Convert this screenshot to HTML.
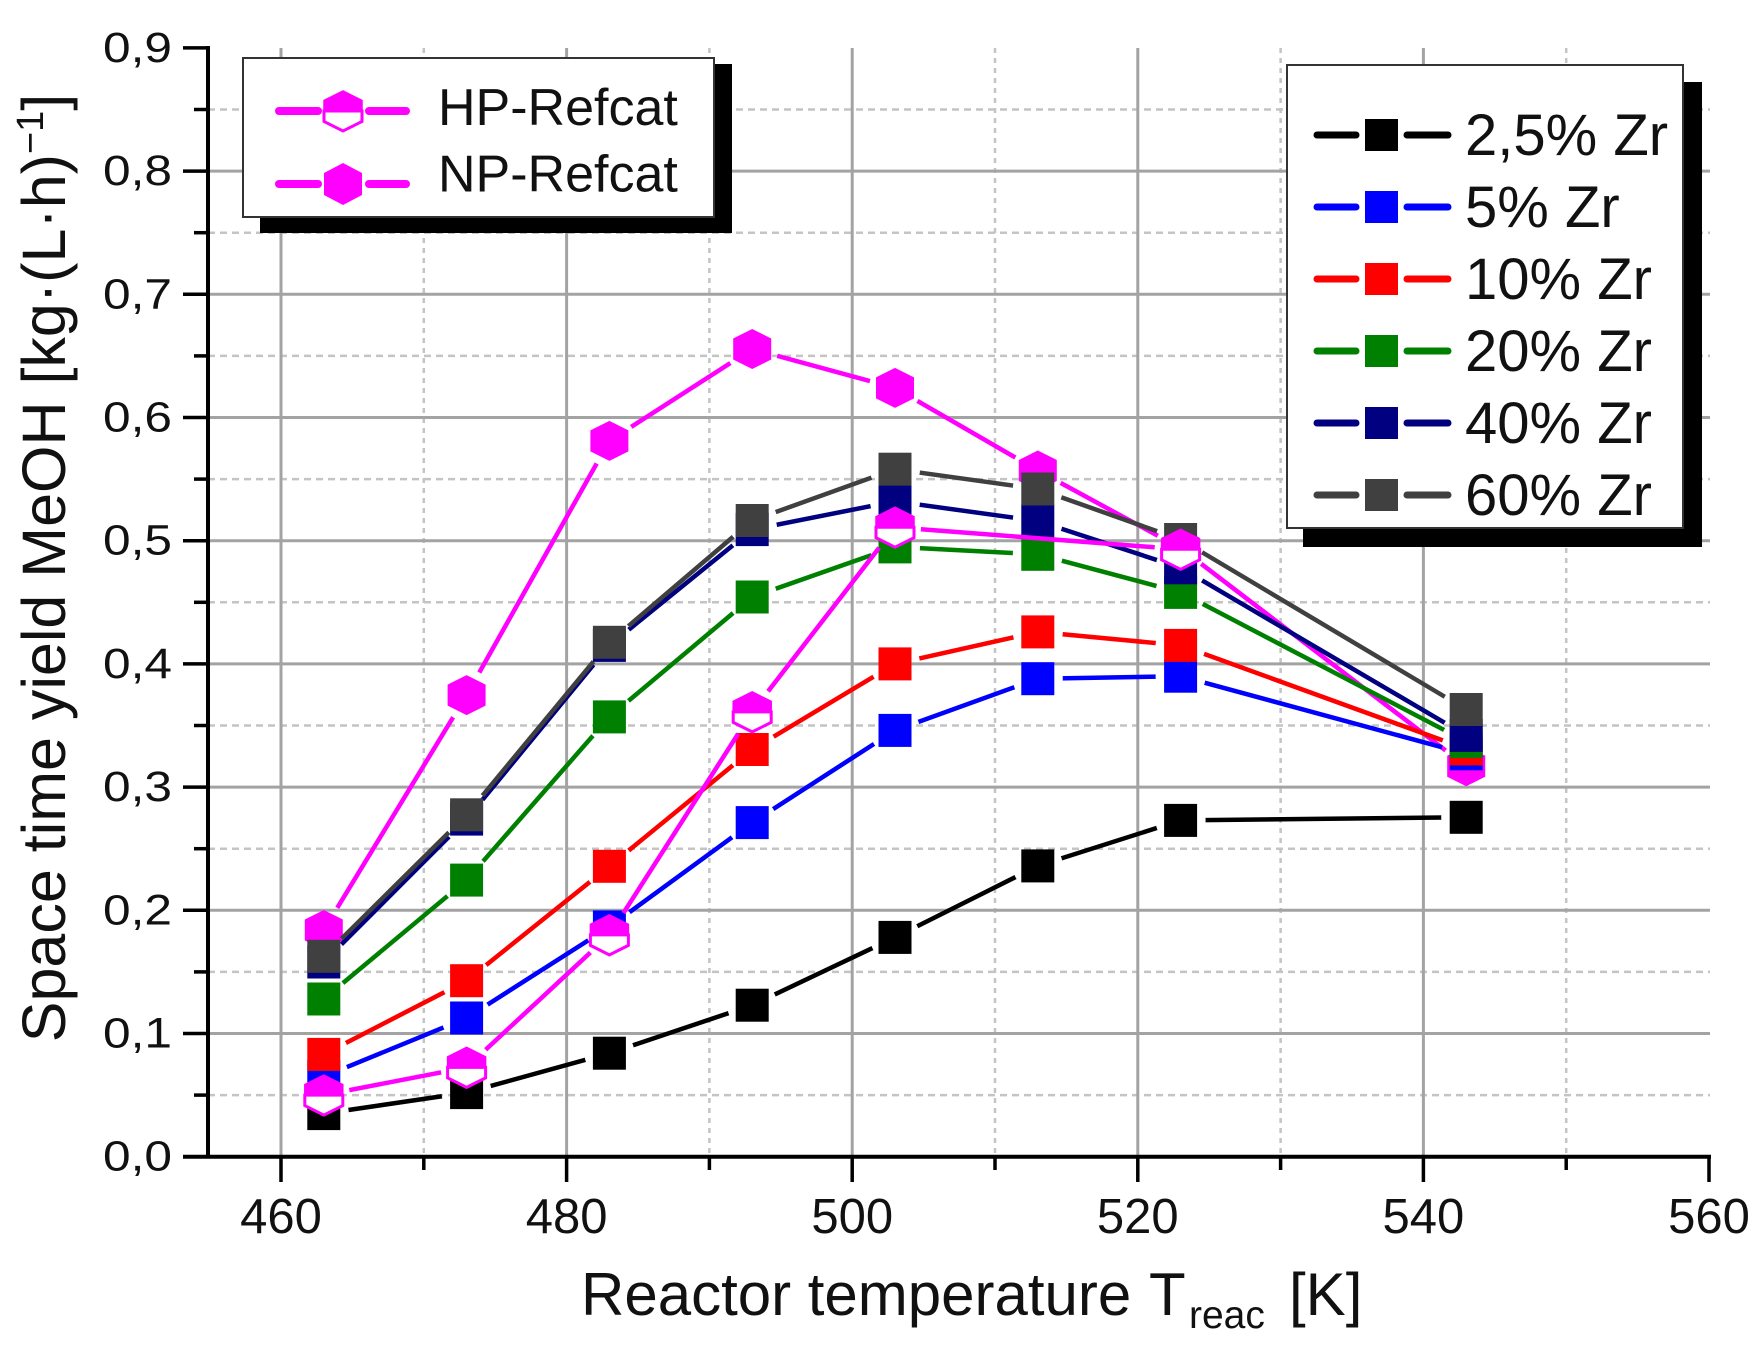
<!DOCTYPE html>
<html>
<head>
<meta charset="utf-8">
<style>
html,body{margin:0;padding:0;background:#fff;}
svg{display:block;}
text{font-family:"Liberation Sans",Arial,sans-serif;fill:#111;}
</style>
</head>
<body>
<svg xmlns="http://www.w3.org/2000/svg" width="1764" height="1354" viewBox="0 0 1764 1354">
<defs>
  <mask id="mBlack" maskUnits="userSpaceOnUse" x="0" y="0" width="1764" height="1354">
    <rect x="0" y="0" width="1764" height="1354" fill="#fff"/>
    <g fill="#000"><circle cx="323.8" cy="1113.6" r="25"/><circle cx="466.6" cy="1092.6" r="25"/><circle cx="609.4" cy="1053.2" r="25"/><circle cx="752.2" cy="1005.2" r="25"/><circle cx="895" cy="937.4" r="25"/><circle cx="1037.8" cy="865.9" r="25"/><circle cx="1180.6" cy="820.4" r="25"/><circle cx="1466.2" cy="817.3" r="25"/></g>
  </mask>
  <mask id="mBlue" maskUnits="userSpaceOnUse" x="0" y="0" width="1764" height="1354">
    <rect x="0" y="0" width="1764" height="1354" fill="#fff"/>
    <g fill="#000"><circle cx="323.8" cy="1076.6" r="25"/><circle cx="466.6" cy="1018" r="25"/><circle cx="609.4" cy="926.9" r="25"/><circle cx="752.2" cy="822.6" r="25"/><circle cx="895" cy="730.4" r="25"/><circle cx="1037.8" cy="678.7" r="25"/><circle cx="1180.6" cy="676.2" r="25"/><circle cx="1466.2" cy="753.8" r="25"/></g>
  </mask>
  <mask id="mRed" maskUnits="userSpaceOnUse" x="0" y="0" width="1764" height="1354">
    <rect x="0" y="0" width="1764" height="1354" fill="#fff"/>
    <g fill="#000"><circle cx="323.8" cy="1054.4" r="25"/><circle cx="466.6" cy="980.7" r="25"/><circle cx="609.4" cy="866.3" r="25"/><circle cx="752.2" cy="749.5" r="25"/><circle cx="895" cy="663.9" r="25"/><circle cx="1037.8" cy="631.9" r="25"/><circle cx="1180.6" cy="645.4" r="25"/><circle cx="1466.2" cy="748.9" r="25"/></g>
  </mask>
  <mask id="mGreen" maskUnits="userSpaceOnUse" x="0" y="0" width="1764" height="1354">
    <rect x="0" y="0" width="1764" height="1354" fill="#fff"/>
    <g fill="#000"><circle cx="323.8" cy="999" r="25"/><circle cx="466.6" cy="880.1" r="25"/><circle cx="609.4" cy="716.9" r="25"/><circle cx="752.2" cy="597" r="25"/><circle cx="895" cy="546.9" r="25"/><circle cx="1037.8" cy="554.3" r="25"/><circle cx="1180.6" cy="592.4" r="25"/><circle cx="1466.2" cy="741.5" r="25"/></g>
  </mask>
  <mask id="mNavy" maskUnits="userSpaceOnUse" x="0" y="0" width="1764" height="1354">
    <rect x="0" y="0" width="1764" height="1354" fill="#fff"/>
    <g fill="#000"><circle cx="323.8" cy="962" r="25"/><circle cx="466.6" cy="819.1" r="25"/><circle cx="609.4" cy="645.4" r="25"/><circle cx="752.2" cy="529.6" r="25"/><circle cx="895" cy="501.3" r="25"/><circle cx="1037.8" cy="521" r="25"/><circle cx="1180.6" cy="567.8" r="25"/><circle cx="1466.2" cy="735.4" r="25"/></g>
  </mask>
  <mask id="mGray" maskUnits="userSpaceOnUse" x="0" y="0" width="1764" height="1354">
    <rect x="0" y="0" width="1764" height="1354" fill="#fff"/>
    <g fill="#000"><circle cx="323.8" cy="956.3" r="25"/><circle cx="466.6" cy="814.8" r="25"/><circle cx="609.4" cy="642.3" r="25"/><circle cx="752.2" cy="520.5" r="25"/><circle cx="895" cy="469.2" r="25"/><circle cx="1037.8" cy="489" r="25"/><circle cx="1180.6" cy="539.5" r="25"/><circle cx="1466.2" cy="709.5" r="25"/></g>
  </mask>
  <mask id="mNP" maskUnits="userSpaceOnUse" x="0" y="0" width="1764" height="1354">
    <rect x="0" y="0" width="1764" height="1354" fill="#fff"/>
    <g fill="#000"><circle cx="323.8" cy="930" r="26"/><circle cx="466.6" cy="695.1" r="26"/><circle cx="609.4" cy="440.9" r="26"/><circle cx="752.2" cy="349" r="26"/><circle cx="895" cy="387.9" r="26"/><circle cx="1037.8" cy="470.5" r="26"/><circle cx="1180.6" cy="548.1" r="26"/><circle cx="1466.2" cy="766.2" r="26"/></g>
  </mask>
  <mask id="mHP" maskUnits="userSpaceOnUse" x="0" y="0" width="1764" height="1354">
    <rect x="0" y="0" width="1764" height="1354" fill="#fff"/>
    <g fill="#000"><circle cx="323.8" cy="1095.1" r="26"/><circle cx="466.6" cy="1067.4" r="26"/><circle cx="609.4" cy="934.9" r="26"/><circle cx="752.2" cy="711.9" r="26"/><circle cx="895" cy="527.2" r="26"/><circle cx="1180.6" cy="549.3" r="26"/></g>
  </mask>
</defs>

<rect x="0" y="0" width="1764" height="1354" fill="#fff"/>

<!-- minor grid (dashed) -->
<g stroke="#c4c4c4" stroke-width="2.5" stroke-dasharray="7 5" fill="none">
  <line x1="208" y1="1095.1" x2="1710" y2="1095.1"/>
  <line x1="208" y1="971.9" x2="1710" y2="971.9"/>
  <line x1="208" y1="848.7" x2="1710" y2="848.7"/>
  <line x1="208" y1="725.5" x2="1710" y2="725.5"/>
  <line x1="208" y1="602.3" x2="1710" y2="602.3"/>
  <line x1="208" y1="479.1" x2="1710" y2="479.1"/>
  <line x1="208" y1="355.9" x2="1710" y2="355.9"/>
  <line x1="208" y1="232.7" x2="1710" y2="232.7"/>
  <line x1="208" y1="109.5" x2="1710" y2="109.5"/>
</g>
<g stroke="#c4c4c4" stroke-width="2.5" stroke-dasharray="5 5" fill="none">
  <line x1="423.8" y1="48" x2="423.8" y2="1156"/>
  <line x1="709.4" y1="48" x2="709.4" y2="1156"/>
  <line x1="995" y1="48" x2="995" y2="1156"/>
  <line x1="1280.6" y1="48" x2="1280.6" y2="1156"/>
  <line x1="1566.2" y1="48" x2="1566.2" y2="1156"/>
</g>
<!-- major grid -->
<g stroke="#a3a3a3" stroke-width="3" fill="none">
  <line x1="208" y1="1033.5" x2="1710" y2="1033.5"/>
  <line x1="208" y1="910.3" x2="1710" y2="910.3"/>
  <line x1="208" y1="787.1" x2="1710" y2="787.1"/>
  <line x1="208" y1="663.9" x2="1710" y2="663.9"/>
  <line x1="208" y1="540.7" x2="1710" y2="540.7"/>
  <line x1="208" y1="417.5" x2="1710" y2="417.5"/>
  <line x1="208" y1="294.3" x2="1710" y2="294.3"/>
  <line x1="208" y1="171.1" x2="1710" y2="171.1"/>
  <line x1="281" y1="48" x2="281" y2="1156"/>
  <line x1="566.6" y1="48" x2="566.6" y2="1156"/>
  <line x1="852.2" y1="48" x2="852.2" y2="1156"/>
  <line x1="1137.8" y1="48" x2="1137.8" y2="1156"/>
  <line x1="1423.4" y1="48" x2="1423.4" y2="1156"/>
</g>

<!-- axes -->
<g stroke="#000" fill="none">
  <line x1="208" y1="46" x2="208" y2="1158.5" stroke-width="4"/>
  <line x1="183" y1="1156.7" x2="1711" y2="1156.7" stroke-width="4"/>
  <g stroke-width="3.5">
    <line x1="183" y1="1033.5" x2="208" y2="1033.5"/>
    <line x1="183" y1="910.3" x2="208" y2="910.3"/>
    <line x1="183" y1="787.1" x2="208" y2="787.1"/>
    <line x1="183" y1="663.9" x2="208" y2="663.9"/>
    <line x1="183" y1="540.7" x2="208" y2="540.7"/>
    <line x1="183" y1="417.5" x2="208" y2="417.5"/>
    <line x1="183" y1="294.3" x2="208" y2="294.3"/>
    <line x1="183" y1="171.1" x2="208" y2="171.1"/>
    <line x1="183" y1="47.9" x2="208" y2="47.9"/>
    <line x1="194" y1="1095.1" x2="208" y2="1095.1"/>
    <line x1="194" y1="971.9" x2="208" y2="971.9"/>
    <line x1="194" y1="848.7" x2="208" y2="848.7"/>
    <line x1="194" y1="725.5" x2="208" y2="725.5"/>
    <line x1="194" y1="602.3" x2="208" y2="602.3"/>
    <line x1="194" y1="479.1" x2="208" y2="479.1"/>
    <line x1="194" y1="355.9" x2="208" y2="355.9"/>
    <line x1="194" y1="232.7" x2="208" y2="232.7"/>
    <line x1="194" y1="109.5" x2="208" y2="109.5"/>
    <line x1="281" y1="1156" x2="281" y2="1182"/>
    <line x1="566.6" y1="1156" x2="566.6" y2="1182"/>
    <line x1="852.2" y1="1156" x2="852.2" y2="1182"/>
    <line x1="1137.8" y1="1156" x2="1137.8" y2="1182"/>
    <line x1="1423.4" y1="1156" x2="1423.4" y2="1182"/>
    <line x1="1709" y1="1156" x2="1709" y2="1182"/>
    <line x1="423.8" y1="1156" x2="423.8" y2="1170"/>
    <line x1="709.4" y1="1156" x2="709.4" y2="1170"/>
    <line x1="995" y1="1156" x2="995" y2="1170"/>
    <line x1="1280.6" y1="1156" x2="1280.6" y2="1170"/>
    <line x1="1566.2" y1="1156" x2="1566.2" y2="1170"/>
  </g>
</g>

<!-- y tick labels -->
<g font-size="43">
  <text x="103" y="1170.7" textLength="69" lengthAdjust="spacingAndGlyphs">0,0</text>
  <text x="103" y="1047.5" textLength="69" lengthAdjust="spacingAndGlyphs">0,1</text>
  <text x="103" y="924.3" textLength="69" lengthAdjust="spacingAndGlyphs">0,2</text>
  <text x="103" y="801.1" textLength="69" lengthAdjust="spacingAndGlyphs">0,3</text>
  <text x="103" y="677.9" textLength="69" lengthAdjust="spacingAndGlyphs">0,4</text>
  <text x="103" y="554.7" textLength="69" lengthAdjust="spacingAndGlyphs">0,5</text>
  <text x="103" y="431.5" textLength="69" lengthAdjust="spacingAndGlyphs">0,6</text>
  <text x="103" y="308.3" textLength="69" lengthAdjust="spacingAndGlyphs">0,7</text>
  <text x="103" y="185.1" textLength="69" lengthAdjust="spacingAndGlyphs">0,8</text>
  <text x="103" y="61.9" textLength="69" lengthAdjust="spacingAndGlyphs">0,9</text>
</g>
<!-- x tick labels -->
<g font-size="49" text-anchor="middle">
  <text x="281" y="1233">460</text>
  <text x="566.6" y="1233">480</text>
  <text x="852.2" y="1233">500</text>
  <text x="1137.8" y="1233">520</text>
  <text x="1423.4" y="1233">540</text>
  <text x="1709" y="1233">560</text>
</g>

<!-- axis titles -->
<text x="581" y="1315" font-size="60">Reactor temperature</text>
<text x="1149" y="1315" font-size="60">T</text>
<text x="1189" y="1328" font-size="39">reac</text>
<text x="1289" y="1315" font-size="60">[K]</text>

<text transform="translate(65,568) rotate(-90)" text-anchor="middle" font-size="61">Space time yield MeOH [kg·(L·h)<tspan font-size="38" dy="-22">−1</tspan><tspan dy="22">]</tspan></text>

<!-- NP-Refcat (bottom layer) -->
<polyline mask="url(#mNP)" fill="none" stroke="#ff00ff" stroke-width="4.5" stroke-linejoin="round"
  points="323.8,930 466.6,695.1 609.4,440.9 752.2,349 895,387.9 1037.8,470.5 1180.6,548.1 1466.2,766.2"/>
<g fill="#ff00ff">
  <polygon transform="translate(323.8,930)" points="0,-20 19,-10.5 19,10.5 0,20 -19,10.5 -19,-10.5"/>
  <polygon transform="translate(466.6,695.1)" points="0,-20 19,-10.5 19,10.5 0,20 -19,10.5 -19,-10.5"/>
  <polygon transform="translate(609.4,440.9)" points="0,-20 19,-10.5 19,10.5 0,20 -19,10.5 -19,-10.5"/>
  <polygon transform="translate(752.2,349)" points="0,-20 19,-10.5 19,10.5 0,20 -19,10.5 -19,-10.5"/>
  <polygon transform="translate(895,387.9)" points="0,-20 19,-10.5 19,10.5 0,20 -19,10.5 -19,-10.5"/>
  <polygon transform="translate(1037.8,470.5)" points="0,-20 19,-10.5 19,10.5 0,20 -19,10.5 -19,-10.5"/>
  <polygon transform="translate(1180.6,548.1)" points="0,-20 19,-10.5 19,10.5 0,20 -19,10.5 -19,-10.5"/>
  <polygon transform="translate(1466.2,766.2)" points="0,-20 19,-10.5 19,10.5 0,20 -19,10.5 -19,-10.5"/>
</g>

<!-- 2,5% Zr black -->
<polyline mask="url(#mBlack)" fill="none" stroke="#000" stroke-width="4.5" stroke-linejoin="round"
  points="323.8,1113.6 466.6,1092.6 609.4,1053.2 752.2,1005.2 895,937.4 1037.8,865.9 1180.6,820.4 1466.2,817.3"/>
<g fill="#000">
  <rect x="307.3" y="1097.1" width="33" height="33"/>
  <rect x="450.1" y="1076.1" width="33" height="33"/>
  <rect x="592.9" y="1036.7" width="33" height="33"/>
  <rect x="735.7" y="988.7" width="33" height="33"/>
  <rect x="878.5" y="920.9" width="33" height="33"/>
  <rect x="1021.3" y="849.4" width="33" height="33"/>
  <rect x="1164.1" y="803.9" width="33" height="33"/>
  <rect x="1449.7" y="800.8" width="33" height="33"/>
</g>

<!-- 5% Zr blue -->
<polyline mask="url(#mBlue)" fill="none" stroke="#0000ff" stroke-width="4.5" stroke-linejoin="round"
  points="323.8,1076.6 466.6,1018 609.4,926.9 752.2,822.6 895,730.4 1037.8,678.7 1180.6,676.2 1466.2,753.8"/>
<g fill="#0000ff">
  <rect x="307.3" y="1060.1" width="33" height="33"/>
  <rect x="450.1" y="1001.5" width="33" height="33"/>
  <rect x="592.9" y="910.4" width="33" height="33"/>
  <rect x="735.7" y="806.1" width="33" height="33"/>
  <rect x="878.5" y="713.9" width="33" height="33"/>
  <rect x="1021.3" y="662.2" width="33" height="33"/>
  <rect x="1164.1" y="659.7" width="33" height="33"/>
  <rect x="1449.7" y="737.3" width="33" height="33"/>
</g>

<!-- 10% Zr red -->
<polyline mask="url(#mRed)" fill="none" stroke="#ff0000" stroke-width="4.5" stroke-linejoin="round"
  points="323.8,1054.4 466.6,980.7 609.4,866.3 752.2,749.5 895,663.9 1037.8,631.9 1180.6,645.4 1466.2,748.9"/>
<g fill="#ff0000">
  <rect x="307.3" y="1037.9" width="33" height="33"/>
  <rect x="450.1" y="964.2" width="33" height="33"/>
  <rect x="592.9" y="849.8" width="33" height="33"/>
  <rect x="735.7" y="733" width="33" height="33"/>
  <rect x="878.5" y="647.4" width="33" height="33"/>
  <rect x="1021.3" y="615.4" width="33" height="33"/>
  <rect x="1164.1" y="628.9" width="33" height="33"/>
  <rect x="1449.7" y="732.4" width="33" height="33"/>
</g>

<!-- 20% Zr green -->
<polyline mask="url(#mGreen)" fill="none" stroke="#008000" stroke-width="4.5" stroke-linejoin="round"
  points="323.8,999 466.6,880.1 609.4,716.9 752.2,597 895,546.9 1037.8,554.3 1180.6,592.4 1466.2,741.5"/>
<g fill="#008000">
  <rect x="307.3" y="982.5" width="33" height="33"/>
  <rect x="450.1" y="863.6" width="33" height="33"/>
  <rect x="592.9" y="700.4" width="33" height="33"/>
  <rect x="735.7" y="580.5" width="33" height="33"/>
  <rect x="878.5" y="530.4" width="33" height="33"/>
  <rect x="1021.3" y="537.8" width="33" height="33"/>
  <rect x="1164.1" y="575.9" width="33" height="33"/>
  <rect x="1449.7" y="725" width="33" height="33"/>
</g>

<!-- 40% Zr navy -->
<polyline mask="url(#mNavy)" fill="none" stroke="#000080" stroke-width="4.5" stroke-linejoin="round"
  points="323.8,962 466.6,819.1 609.4,645.4 752.2,529.6 895,501.3 1037.8,521 1180.6,567.8 1466.2,735.4"/>
<g fill="#000080">
  <rect x="307.3" y="945.5" width="33" height="33"/>
  <rect x="450.1" y="802.6" width="33" height="33"/>
  <rect x="592.9" y="628.9" width="33" height="33"/>
  <rect x="735.7" y="513.1" width="33" height="33"/>
  <rect x="878.5" y="484.8" width="33" height="33"/>
  <rect x="1021.3" y="504.5" width="33" height="33"/>
  <rect x="1164.1" y="551.3" width="33" height="33"/>
  <rect x="1449.7" y="718.9" width="33" height="33"/>
</g>

<!-- 60% Zr dark gray -->
<polyline mask="url(#mGray)" fill="none" stroke="#404040" stroke-width="4.5" stroke-linejoin="round"
  points="323.8,956.3 466.6,814.8 609.4,642.3 752.2,520.5 895,469.2 1037.8,489 1180.6,539.5 1466.2,709.5"/>
<g fill="#404040">
  <rect x="307.3" y="939.8" width="33" height="33"/>
  <rect x="450.1" y="798.3" width="33" height="33"/>
  <rect x="592.9" y="625.8" width="33" height="33"/>
  <rect x="735.7" y="504" width="33" height="33"/>
  <rect x="878.5" y="452.7" width="33" height="33"/>
  <rect x="1021.3" y="472.5" width="33" height="33"/>
  <rect x="1164.1" y="523" width="33" height="33"/>
  <rect x="1449.7" y="693" width="33" height="33"/>
</g>

<!-- HP-Refcat (top layer) -->
<polyline mask="url(#mHP)" fill="none" stroke="#ff00ff" stroke-width="4.5" stroke-linejoin="round"
  points="323.8,1095.1 466.6,1067.4 609.4,934.9 752.2,711.9 895,527.2 1180.6,549.3"/>
<g>
  <g transform="translate(323.8,1095.1)"><polygon points="19,0 19,10.5 0,20 -19,10.5 -19,0" fill="#fff" stroke="#ff00ff" stroke-width="3"/><polygon points="-19,0 -19,-10.5 0,-20 19,-10.5 19,0" fill="#ff00ff" stroke="#ff00ff" stroke-width="1.5"/></g>
  <g transform="translate(466.6,1067.4)"><polygon points="19,0 19,10.5 0,20 -19,10.5 -19,0" fill="#fff" stroke="#ff00ff" stroke-width="3"/><polygon points="-19,0 -19,-10.5 0,-20 19,-10.5 19,0" fill="#ff00ff" stroke="#ff00ff" stroke-width="1.5"/></g>
  <g transform="translate(609.4,934.9)"><polygon points="19,0 19,10.5 0,20 -19,10.5 -19,0" fill="#fff" stroke="#ff00ff" stroke-width="3"/><polygon points="-19,0 -19,-10.5 0,-20 19,-10.5 19,0" fill="#ff00ff" stroke="#ff00ff" stroke-width="1.5"/></g>
  <g transform="translate(752.2,711.9)"><polygon points="19,0 19,10.5 0,20 -19,10.5 -19,0" fill="#fff" stroke="#ff00ff" stroke-width="3"/><polygon points="-19,0 -19,-10.5 0,-20 19,-10.5 19,0" fill="#ff00ff" stroke="#ff00ff" stroke-width="1.5"/></g>
  <g transform="translate(895,527.2)"><polygon points="19,0 19,10.5 0,20 -19,10.5 -19,0" fill="#fff" stroke="#ff00ff" stroke-width="3"/><polygon points="-19,0 -19,-10.5 0,-20 19,-10.5 19,0" fill="#ff00ff" stroke="#ff00ff" stroke-width="1.5"/></g>
  <g transform="translate(1180.6,549.3)"><polygon points="19,0 19,10.5 0,20 -19,10.5 -19,0" fill="#fff" stroke="#ff00ff" stroke-width="3"/><polygon points="-19,0 -19,-10.5 0,-20 19,-10.5 19,0" fill="#ff00ff" stroke="#ff00ff" stroke-width="1.5"/></g>
</g>

<!-- Legend 1 -->
<rect x="260" y="64" width="472" height="169" fill="#000"/>
<rect x="243" y="58" width="471" height="159" fill="#fff" stroke="#333" stroke-width="2"/>
<g stroke="#ff00ff" stroke-width="8" stroke-linecap="round">
  <line x1="279" y1="111" x2="318" y2="111"/>
  <line x1="369" y1="111" x2="406" y2="111"/>
  <line x1="279" y1="184" x2="318" y2="184"/>
  <line x1="369" y1="184" x2="406" y2="184"/>
</g>
<g transform="translate(343,111)"><polygon points="19,0 19,10.5 0,20 -19,10.5 -19,0" fill="#fff" stroke="#ff00ff" stroke-width="3"/><polygon points="-19,0 -19,-10.5 0,-20 19,-10.5 19,0" fill="#ff00ff" stroke="#ff00ff" stroke-width="1.5"/></g>
<polygon transform="translate(343,184)" fill="#ff00ff" points="0,-21 19,-11 19,11 0,21 -19,11 -19,-11"/>
<text x="438" y="125" font-size="52">HP-Refcat</text>
<text x="438" y="191.5" font-size="52">NP-Refcat</text>

<!-- Legend 2 -->
<rect x="1303" y="82" width="399" height="465" fill="#000"/>
<rect x="1287" y="65" width="396" height="463" fill="#fff" stroke="#333" stroke-width="2"/>
<g stroke-width="7" stroke-linecap="round">
  <line x1="1317" y1="135" x2="1356" y2="135" stroke="#000"/><line x1="1407" y1="135" x2="1448" y2="135" stroke="#000"/>
  <line x1="1317" y1="207" x2="1356" y2="207" stroke="#0000ff"/><line x1="1407" y1="207" x2="1448" y2="207" stroke="#0000ff"/>
  <line x1="1317" y1="279" x2="1356" y2="279" stroke="#ff0000"/><line x1="1407" y1="279" x2="1448" y2="279" stroke="#ff0000"/>
  <line x1="1317" y1="351" x2="1356" y2="351" stroke="#008000"/><line x1="1407" y1="351" x2="1448" y2="351" stroke="#008000"/>
  <line x1="1317" y1="423" x2="1356" y2="423" stroke="#000080"/><line x1="1407" y1="423" x2="1448" y2="423" stroke="#000080"/>
  <line x1="1317" y1="495" x2="1356" y2="495" stroke="#404040"/><line x1="1407" y1="495" x2="1448" y2="495" stroke="#404040"/>
</g>
<rect x="1365" y="119" width="33" height="32" fill="#000"/>
<rect x="1365" y="191" width="33" height="32" fill="#0000ff"/>
<rect x="1365" y="263" width="33" height="32" fill="#ff0000"/>
<rect x="1365" y="335" width="33" height="32" fill="#008000"/>
<rect x="1365" y="407" width="33" height="32" fill="#000080"/>
<rect x="1365" y="479" width="33" height="32" fill="#404040"/>
<g font-size="58">
  <text x="1465" y="155">2,5% Zr</text>
  <text x="1465" y="227">5% Zr</text>
  <text x="1465" y="299">10% Zr</text>
  <text x="1465" y="371">20% Zr</text>
  <text x="1465" y="443">40% Zr</text>
  <text x="1465" y="515">60% Zr</text>
</g>
</svg>
</body>
</html>
